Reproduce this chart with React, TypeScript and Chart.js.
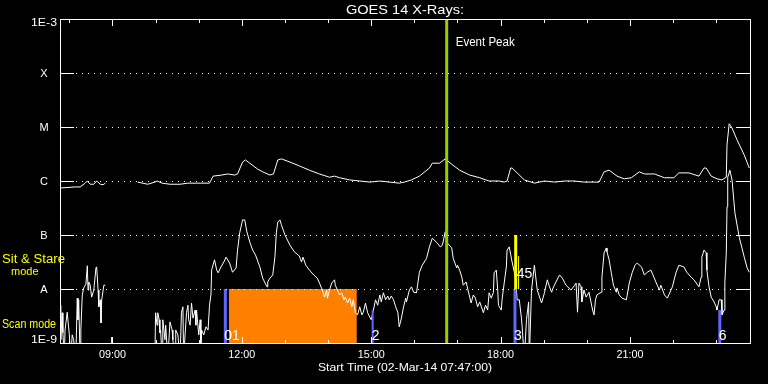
import React, { useEffect, useRef } from "react";
import { Chart, registerables } from "chart.js";

Chart.register(...registerables);

// ---------- text ----------
const TITLE = "GOES 14 X-Rays:";
const X_TITLE = "Start Time (02-Mar-14 07:47:00)";
const EVENT_LABEL = "Event Peak";

// ---------- axes ----------
const START_MINUTE_OF_DAY = 467; // 07:47
const SPAN_MINUTES = 960;
const Y_TICK_VALUES = [1e-9, 1e-8, 1e-7, 1e-6, 1e-5, 1e-4, 1e-3];
const Y_TICK_LABELS = ["1E-9", "A", "B", "C", "M", "X", "1E-3"];
const HOUR_TICKS = [8, 9, 10, 11, 12, 13, 14, 15, 16, 17, 18, 19, 20, 21, 22, 23];
const LABELED_HOURS = [9, 12, 15, 18, 21];
const HOUR_LABELS = ["09:00", "12:00", "15:00", "18:00", "21:00"];

// ---------- data: [minutes since start, log10 flux (W/m^2)] ----------
const longChannel: [number, number | null][] = [
  [0, -6.13], [21, -6.11], [28, -6.11], [35, -6.04], [38, -6.0], [42, -6.06], [47, -6.06], [51, -6.0],
  [56, -6.06], [60, -6.07], [63, -6.04], [64, null],
  [108, -6.02], [122, -6.06], [132, -6.02], [135, -6.0], [142, -6.04], [153, -6.06], [167, -6.06],
  [178, -6.04], [195, -6.04], [208, -6.04], [213, -5.91], [225, -5.89], [233, -5.87], [243, -5.89],
  [247, -5.87], [254, -5.65], [258, -5.61], [264, -5.67], [275, -5.78], [282, -5.83], [292, -5.89],
  [297, -5.87], [303, -5.61], [308, -5.59], [320, -5.65], [333, -5.72], [347, -5.8], [361, -5.87],
  [375, -5.93], [382, -5.91], [389, -5.94], [403, -5.98], [417, -6.0], [431, -6.02], [445, -6.0],
  [458, -6.02], [472, -6.04], [479, -6.02], [489, -5.98], [500, -5.91], [514, -5.76], [518, -5.67],
  [528, -5.67], [536, -5.59], [545, -5.69], [556, -5.8], [570, -5.89], [584, -5.94], [597, -6.0],
  [611, -6.0], [618, -6.02], [622, -6.0], [627, -5.76], [629, -5.76], [636, -5.85], [646, -5.98],
  [660, -6.04], [674, -6.0], [688, -6.02], [702, -6.0], [715, -6.0], [729, -6.02], [750, -6.02],
  [757, -5.83], [764, -5.8], [775, -5.91], [785, -5.96], [795, -5.94], [806, -5.83], [813, -5.87],
  [827, -5.87], [841, -5.94], [854, -5.94], [861, -5.85], [875, -5.85], [889, -5.91], [896, -5.76],
  [899, -5.76], [906, -5.91], [914, -5.96], [921, -5.98], [927, -5.93], [928, -5.33], [931, -4.94],
  [935, -5.02], [942, -5.24], [952, -5.52], [959, -5.76],
];

const shortChannel: [number, number | null][] = [
  [0, -8.3], [1, -8.94], [3, -8.44], [4, -8.81], [6, -9.3], [7, -8.76], [10, -8.43], [13, -8.85],
  [15, -9.3], [17, -8.85], [19, -8.94], [22, -9.3], [24, -8.17], [25, -8.57], [26, -8.2], [28, -9.3],
  [29, -8.76], [31, -8.11], [33, -7.98], [36, -7.91], [38, -7.57], [39, -8.02], [40, -7.87], [42, -7.93],
  [44, -8.15], [47, -8.02], [50, -7.61], [51, -7.59], [53, -8.02], [54, -8.33], [56, -8.2], [57, -8.63],
  [58, -8.2], [61, -7.93], [63, -7.93], [64, null],
  [71, -9.3], [72, -8.89], [74, -9.3], [75, null],
  [132, -9.3], [133, -8.44], [135, -8.67], [136, -8.44], [138, -8.57], [139, -8.81], [140, -8.76],
  [142, -9.3], [143, -8.57], [146, -8.94], [147, -8.67], [150, -9.3], [153, -8.61], [156, -8.76],
  [157, -8.94], [160, -9.3], [161, -8.76], [164, -8.85], [167, -9.3], [169, -8.43], [171, -8.33],
  [172, -9.3], [174, -8.85], [176, -8.44], [178, -8.3], [179, -8.57], [181, -8.67], [183, -8.26],
  [185, -8.54], [188, -8.39], [189, -8.67], [190, -8.39], [193, -8.85], [195, -8.57], [196, -9.3],
  [197, -8.76], [200, -8.85], [203, -8.7], [206, -8.76], [208, -8.3], [210, -8.11], [211, -7.65],
  [214, -7.5], [215, -7.46], [218, -7.65], [220, -7.7], [224, -7.59], [228, -7.5], [231, -7.41],
  [236, -7.52], [240, -7.69], [245, -7.61], [247, -7.28], [250, -6.96], [254, -6.72], [257, -6.72],
  [260, -6.94], [264, -7.13], [268, -7.28], [272, -7.37], [278, -7.59], [282, -7.8], [288, -7.96],
  [289, -7.87], [292, -7.8], [296, -7.74], [299, -7.41], [301, -6.96], [303, -6.76], [306, -6.72],
  [308, -6.81], [313, -7.0], [320, -7.19], [326, -7.31], [333, -7.39], [336, -7.5], [338, -7.41],
  [342, -7.56], [347, -7.65], [353, -7.74], [358, -7.8], [361, -7.89], [365, -8.02], [368, -8.15],
  [371, -8.02], [372, -8.17], [375, -8.02], [378, -7.89], [382, -7.83], [383, -7.93], [386, -8.02],
  [389, -8.11], [392, -8.07], [395, -8.2], [397, -8.15], [400, -8.26], [403, -8.17], [406, -8.33],
  [408, -8.2], [411, -8.44], [414, -8.48], [417, -8.33], [420, -8.48], [422, -8.43], [425, -8.26],
  [428, -8.44], [431, -8.52], [433, -8.57], [436, -8.39], [439, -8.2], [442, -8.3], [445, -8.11],
  [447, -8.24], [450, -8.07], [453, -8.2], [456, -8.13], [458, -8.2], [461, -8.13], [464, -8.2],
  [467, -8.33], [470, -8.43], [472, -8.7], [475, -8.54], [478, -8.33], [481, -8.17], [482, -8.24],
  [486, -8.02], [489, -7.96], [492, -8.06], [496, -8.07], [500, -7.69], [504, -7.56], [510, -7.43],
  [514, -7.22], [518, -7.06], [525, -7.15], [529, -7.22], [532, -7.19], [536, -6.94], [539, -7.15],
  [545, -7.24], [547, -7.43], [552, -7.61], [553, -7.56], [556, -7.65], [559, -7.78], [561, -7.93],
  [565, -7.87], [570, -8.15], [572, -8.26], [575, -8.11], [578, -8.17], [581, -8.33], [584, -8.24],
  [589, -8.44], [592, -8.3], [595, -8.39], [597, -8.07], [600, -8.17], [603, -8.06], [604, -7.7],
  [607, -7.65], [609, -8.02], [610, -8.3], [614, -8.39], [615, -8.2], [618, -7.89], [621, -7.59],
  [622, -7.28], [625, -7.22], [629, -7.5], [633, -7.74], [635, -8.02], [636, -8.2], [639, -8.2],
  [642, -8.54], [643, -8.7], [646, -9.3], [649, -8.57], [652, -8.24], [653, -9.3], [656, -8.02],
  [660, -7.56], [664, -8.02], [670, -8.26], [674, -8.07], [678, -7.83], [681, -7.96], [684, -8.06],
  [686, -7.98], [690, -7.87], [695, -7.74], [699, -7.8], [704, -7.93], [711, -8.02], [716, -7.93],
  [718, -7.89], [720, -8.43], [722, -7.89], [725, -7.96], [726, -8.24], [729, -8.02], [732, -8.15],
  [736, -8.06], [741, -8.39], [743, -8.48], [745, -8.2], [747, -8.11], [753, -8.06], [754, -7.78],
  [757, -7.33], [760, -7.24], [761, -7.31], [764, -7.46], [767, -7.7], [770, -7.93], [774, -8.06],
  [775, -7.98], [778, -8.11], [782, -8.17], [788, -8.2], [792, -7.89], [796, -7.7], [800, -7.56],
  [803, -7.52], [809, -7.59], [813, -7.74], [817, -7.69], [822, -7.65], [825, -7.74], [829, -7.87],
  [834, -8.02], [836, -7.93], [841, -8.11], [845, -8.17], [852, -7.96], [857, -7.7], [861, -7.56],
  [868, -7.59], [872, -7.69], [878, -7.78], [882, -7.83], [889, -7.96], [892, -7.78], [893, -7.41],
  [896, -7.28], [899, -7.33], [900, -7.65], [903, -7.96], [906, -8.15], [910, -8.24], [913, -8.33],
  [914, -8.39], [917, -8.2], [920, -8.2], [921, -8.48], [924, -8.39], [925, -7.89], [927, -7.33],
  [928, -6.48], [929, -5.93], [932, -5.8], [935, -5.98], [939, -6.59], [945, -7.04], [952, -7.41],
  [956, -7.61], [959, -7.69],
];

// scan-mode block (orange), observation markers (blue), sit & stare (yellow), event peak (green)
const SCAN_BLOCK = { start: 235, end: 413, topLog: -8 };
const OBS_TIMES = [230, 435, 633, 918];
const OBS_TOP_LOG = [-8, -8.39, -8, -8.39];
const OBS_LABELS = ["01", "2", "3", "6"];
const SIT_TIMES = [634, 638];
const SIT_TOP_LOG = [-7, -7.39];
const SIT_LABEL = "45";
const EVENT_PEAK_TIME = 538;
const MODE_LABELS = ["Sit & Stare", "mode", "Scan mode"];

// ---------- styles ----------
const OBS_WIDTHS = [3, 2, 3, 3];
const SIT_WIDTHS = [3, 1];
const FONT = "'Liberation Sans', Arial, sans-serif";

const toPoints = (arr: [number, number | null][]) =>
  arr.map(([t, l]) => ({ x: t, y: l === null ? null : Math.pow(10, l) }));

const vline = (t: number, lowLog: number, highLog: number) => [
  { x: t, y: Math.pow(10, lowLog) },
  { x: t, y: Math.pow(10, highLog) },
];

// draw text squeezed/stretched horizontally to a target width
function fitText(ctx: CanvasRenderingContext2D, text: string, x: number, y: number, width: number, align: "left" | "center" | "right") {
  const w = ctx.measureText(text).width;
  const sx = w > 0 ? width / w : 1;
  const left = align === "left" ? x : align === "center" ? x - width / 2 : x - width;
  ctx.save();
  ctx.textAlign = "left";
  ctx.translate(left, y);
  ctx.scale(sx, 1);
  ctx.fillText(text, 0, 0);
  ctx.restore();
}

const goesPlugin = {
  id: "goesDecor",
  beforeDraw(chart: any) {
    const ctx = chart.ctx;
    ctx.save();
    ctx.fillStyle = "#000";
    ctx.fillRect(0, 0, chart.width, chart.height);
    ctx.restore();
  },
  afterDatasetsDraw(chart: any) {
    const { ctx, chartArea: a, scales } = chart;
    const xs = scales.x;
    const ys = scales.y;
    const px = (m: number) => Math.round(xs.getPixelForValue(m)) + 0.5;
    const py = (v: number) => Math.round(ys.getPixelForValue(v)) + 0.5;
    ctx.save();
    ctx.strokeStyle = "#fff";
    ctx.lineWidth = 1;

    // dotted decade lines
    ctx.setLineDash([1, 5]);
    for (const v of Y_TICK_VALUES.slice(1, -1)) {
      const y = py(v);
      ctx.beginPath();
      ctx.moveTo(a.left + 16, y);
      ctx.lineTo(a.right - 14, y);
      ctx.stroke();
    }
    ctx.setLineDash([]);

    // frame
    ctx.strokeRect(a.left + 0.5, a.top + 0.5, a.right - a.left, a.bottom - a.top);

    // y ticks (inside, both sides)
    for (const v of Y_TICK_VALUES.slice(1, -1)) {
      const y = py(v);
      ctx.beginPath();
      ctx.moveTo(a.left, y);
      ctx.lineTo(a.left + 14, y);
      ctx.moveTo(a.right - 14, y);
      ctx.lineTo(a.right + 1, y);
      ctx.stroke();
    }

    // x ticks (inside, top and bottom)
    for (const h of HOUR_TICKS) {
      const m = h * 60 - START_MINUTE_OF_DAY;
      const x = px(m);
      const len = LABELED_HOURS.includes(h) ? 7 : 4;
      ctx.beginPath();
      ctx.moveTo(x, a.top);
      ctx.lineTo(x, a.top + len);
      ctx.moveTo(x, a.bottom + 1);
      ctx.lineTo(x, a.bottom + 1 - len);
      ctx.stroke();
    }

    ctx.fillStyle = "#fff";
    ctx.textBaseline = "middle";
    // y labels
    Y_TICK_VALUES.forEach((v, i) => {
      const y = ys.getPixelForValue(v);
      ctx.font = `11px ${FONT}`;
      if (i === 0 || i === Y_TICK_VALUES.length - 1) {
        fitText(ctx, Y_TICK_LABELS[i], a.left - 3, i === 0 ? y - 3 : y + 4, 26, "right");
      } else {
        ctx.textAlign = "center";
        ctx.fillText(Y_TICK_LABELS[i], 44, y + 1);
      }
    });

    // x labels
    ctx.font = `11px ${FONT}`;
    LABELED_HOURS.forEach((h, i) => {
      const x = xs.getPixelForValue(h * 60 - START_MINUTE_OF_DAY);
      fitText(ctx, HOUR_LABELS[i], x, a.bottom + 12, 27, "center");
    });

    // axis title & chart title
    const cx = (a.left + a.right) / 2;
    ctx.font = `11px ${FONT}`;
    fitText(ctx, X_TITLE, cx, a.bottom + 25, 174, "center");
    ctx.font = `13px ${FONT}`;
    fitText(ctx, TITLE, cx, 10, 118, "center");

    // event peak label
    ctx.font = `12px ${FONT}`;
    fitText(ctx, EVENT_LABEL, xs.getPixelForValue(EVENT_PEAK_TIME) + 9, a.top + 24, 59, "left");

    // observation labels
    ctx.font = `14px ${FONT}`;
    ctx.textBaseline = "alphabetic";
    ctx.textAlign = "left";
    OBS_TIMES.forEach((t, i) => {
      ctx.fillText(OBS_LABELS[i], xs.getPixelForValue(t) - 1, a.bottom - 3);
    });
    ctx.fillText(SIT_LABEL, xs.getPixelForValue(SIT_TIMES[0]) + 1, ys.getPixelForValue(Math.pow(10, SCAN_BLOCK.topLog)) - 11);

    // mode labels
    ctx.fillStyle = "#ffff00";
    ctx.font = `12px ${FONT}`;
    fitText(ctx, MODE_LABELS[0], 2, 263, 63, "left");
    ctx.font = `11px ${FONT}`;
    ctx.textAlign = "left";
    ctx.fillText(MODE_LABELS[1], 11, 275);
    ctx.font = `12px ${FONT}`;
    fitText(ctx, MODE_LABELS[2], 2, 328, 54, "left");
    ctx.restore();
  },
};

export default function App() {
  const ref = useRef<HTMLCanvasElement>(null);
  useEffect(() => {
    document.body.style.margin = "0";
    document.body.style.background = "#000";
    const datasets: any[] = [];
    // event peak line (top-most)
    datasets.push({
      data: vline(EVENT_PEAK_TIME, -9, -3),
      borderColor: "#9acd00",
      borderWidth: 3,
      order: 0,
    });
    SIT_TIMES.forEach((t, i) =>
      datasets.push({
        data: vline(t, SCAN_BLOCK.topLog, SIT_TOP_LOG[i]),
        borderColor: "#ffff00",
        borderWidth: SIT_WIDTHS[i],
        order: 1,
      })
    );
    OBS_TIMES.forEach((t, i) =>
      datasets.push({
        data: vline(t, -9.2, OBS_TOP_LOG[i]),
        borderColor: "#6464ff",
        borderWidth: OBS_WIDTHS[i],
        order: 1,
      })
    );
    datasets.push({
      data: toPoints(longChannel),
      borderColor: "#ffffff",
      borderWidth: 1,
      order: 5,
    });
    datasets.push({
      data: toPoints(shortChannel),
      borderColor: "#ffffff",
      borderWidth: 1,
      order: 5,
    });
    datasets.push({
      data: [
        { x: SCAN_BLOCK.start, y: Math.pow(10, SCAN_BLOCK.topLog) },
        { x: SCAN_BLOCK.end, y: Math.pow(10, SCAN_BLOCK.topLog) },
      ],
      borderWidth: 0,
      borderColor: "rgba(0,0,0,0)",
      backgroundColor: "#ff8000",
      fill: "start",
      order: 10,
    });

    const chart = new Chart(ref.current as HTMLCanvasElement, {
      type: "line",
      data: { datasets },
      options: {
        animation: false,
        responsive: false,
        devicePixelRatio: 1,
        events: [],
        layout: { padding: { left: 60, right: 18, top: 19, bottom: 41 } },
        elements: { point: { radius: 0 }, line: { tension: 0 } },
        scales: {
          x: { type: "linear", min: 0, max: SPAN_MINUTES, display: false },
          y: { type: "logarithmic", min: 1e-9, max: 1e-3, display: false },
        },
        plugins: {
          legend: { display: false },
          tooltip: { enabled: false },
          title: { display: false },
        },
      },
      plugins: [goesPlugin],
    } as any);
    return () => chart.destroy();
  }, []);
  return (
    <div style={{ width: 768, height: 384, background: "#000" }}>
      <canvas ref={ref} width={768} height={384} style={{ display: "block" }} />
    </div>
  );
}
